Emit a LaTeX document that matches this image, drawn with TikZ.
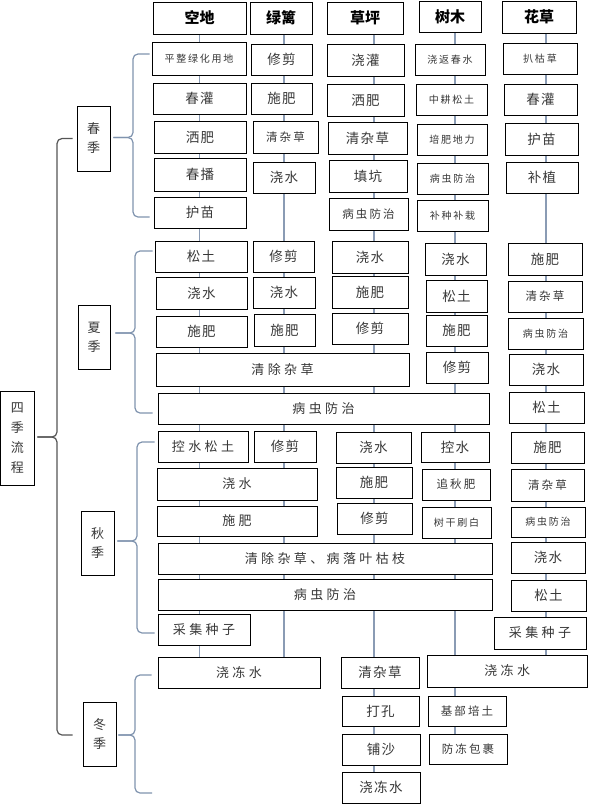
\documentclass[tikz,border=0pt]{standalone}
\usepackage{fontspec}
\setmainfont{Noto Sans CJK SC}
\newfontfamily\cjk[LetterSpace=10]{Noto Sans CJK SC}
\newfontfamily\cjksm[LetterSpace=18]{Noto Sans CJK SC}
\newfontfamily\cjksp[LetterSpace=26]{Noto Sans CJK SC}
\usetikzlibrary{backgrounds}
\definecolor{txt}{HTML}{383838}
\definecolor{lnk}{HTML}{8A9BB4}
\definecolor{brc}{HTML}{7F93AE}
\definecolor{bigb}{HTML}{555555}
\tikzset{
  box/.style={draw=black, fill=white, line width=0.8pt, inner sep=0pt, text=txt,
    font=\cjk\fontsize{13.5}{16}\selectfont},
  hd/.style={font=\bfseries\fontsize{15}{18}\selectfont, text=black},
  sm/.style={font=\cjksm\fontsize{10}{12}\selectfont},
  md/.style={font=\cjksm\fontsize{11.5}{14}\selectfont},
  sp/.style={font=\cjksp\fontsize{13}{16}\selectfont},
  ssn/.style={align=center, font=\fontsize{13}{19}\selectfont},
  link/.style={draw=lnk, line width=1.2pt},
  bracepath/.style={draw=brc, line width=1.2pt, rounded corners=5pt},
  bigbrace/.style={draw=bigb, line width=1.2pt, rounded corners=5pt},
}
\newcommand\bx[7][]{\node[box,#1,minimum width={#4-#2},minimum height={#5-#3}] (#6) at ({(#2+#4)/2},{(#3+#5)/2}) {#7};}
\begin{document}
\begin{tikzpicture}[x=1pt,y=-1pt]
\useasboundingbox (0,0) rectangle (589,804);
% headers
\bx[hd]{153}{2}{246}{34}{hKD}{空地}
\bx[hd]{250}{2}{312}{34}{hLL}{绿篱}
\bx[hd]{327}{2}{403}{34}{hCP}{草坪}
\bx[hd]{419}{1}{481}{32}{hSM}{树木}
\bx[hd]{502}{1}{576}{33}{hHC}{花草}
% spring
\bx[sm]{152}{42}{246}{75}{s11}{平整绿化用地}
\bx{153}{83}{246}{114}{s12}{春灌}
\bx{154}{121}{246}{153}{s13}{洒肥}
\bx{154}{158}{246}{191}{s14}{春播}
\bx{154}{197}{246}{228}{s15}{护苗}
\bx{251}{44}{312}{75}{s21}{修剪}
\bx{251}{83}{312}{114}{s22}{施肥}
\bx[md]{253}{121}{318}{153}{s23}{清杂草}
\bx{253}{162}{315}{193}{s24}{浇水}
\bx{327}{44}{404}{76}{s31}{浇灌}
\bx{327}{84}{404}{116}{s32}{洒肥}
\bx{328}{122}{407}{154}{s33}{清杂草}
\bx{329}{160}{407}{192}{s34}{填坑}
\bx[md]{329}{198}{408}{230}{s35}{病虫防治}
\bx[sm]{415}{44}{485}{75}{s41}{浇返春水}
\bx[sm]{416}{84}{487}{115}{s42}{中耕松土}
\bx[sm]{417}{124}{487}{155}{s43}{培肥地力}
\bx[sm]{417}{163}{488}{194}{s44}{病虫防治}
\bx[sm]{417}{200}{488}{231}{s45}{补种补栽}
\bx[sm]{503}{43}{577}{74}{s51}{扒枯草}
\bx{504}{84}{577}{115}{s52}{春灌}
\bx{505}{123}{578}{155}{s53}{护苗}
\bx{506}{162}{578}{193}{s54}{补植}
% summer
\bx{155}{241}{247}{272}{u11}{松土}
\bx{156}{277}{247}{309}{u12}{浇水}
\bx{156}{316}{247}{347}{u13}{施肥}
\bx[sp]{156}{353}{409}{386}{u14}{清除杂草}
\bx[sp]{158}{393}{489}{424}{u15}{病虫防治}
\bx{253}{241}{314}{272}{u21}{修剪}
\bx{253}{277}{315}{308}{u22}{浇水}
\bx{254}{314}{315}{346}{u23}{施肥}
\bx{332}{241}{408}{273}{u31}{浇水}
\bx{332}{276}{408}{308}{u32}{施肥}
\bx{332}{313}{408}{344}{u33}{修剪}
\bx{425}{243}{486}{275}{u41}{浇水}
\bx{426}{280}{487}{312}{u42}{松土}
\bx{426}{315}{487}{346}{u43}{施肥}
\bx{426}{352}{488}{383}{u44}{修剪}
\bx{508}{243}{582}{275}{u51}{施肥}
\bx[md]{508}{281}{582}{312}{u52}{清杂草}
\bx[sm]{508}{318}{583}{349}{u53}{病虫防治}
\bx{509}{354}{583}{385}{u54}{浇水}
\bx{509}{392}{584}{423}{u55}{松土}
% autumn
\bx[sp]{158}{431}{248}{462}{a11}{控水松土}
\bx[sp]{157}{468}{317}{500}{a12}{浇水}
\bx[sp]{157}{506}{317}{536}{a13}{施肥}
\bx[sp]{158}{543}{492}{574}{a14}{清除杂草、病落叶枯枝}
\bx[sp]{158}{579}{492}{610}{a15}{病虫防治}
\bx[sp]{158}{614}{250}{645}{a16}{采集种子}
\bx{254}{431}{316}{462}{a21}{修剪}
\bx{336}{432}{411}{463}{a31}{浇水}
\bx{336}{467}{412}{498}{a32}{施肥}
\bx{337}{503}{412}{534}{a33}{修剪}
\bx{421}{432}{489}{462}{a41}{控水}
\bx[md]{422}{469}{490}{500}{a42}{追秋肥}
\bx[sm]{422}{507}{491}{538}{a43}{树干刷白}
\bx{511}{432}{584}{463}{a51}{施肥}
\bx[md]{511}{469}{584}{501}{a52}{清杂草}
\bx[sm]{511}{507}{585}{537}{a53}{病虫防治}
\bx{511}{542}{585}{573}{a54}{浇水}
\bx{511}{580}{586}{611}{a55}{松土}
\bx[sp]{494}{617}{586}{649}{a56}{采集种子}
% winter
\bx[sp]{158}{657}{320}{688}{w11}{浇冻水}
\bx{341}{657}{419}{688}{w31}{清杂草}
\bx{342}{696}{419}{726}{w32}{打孔}
\bx{342}{734}{420}{765}{w33}{铺沙}
\bx{342}{772}{420}{803}{w34}{浇冻水}
\bx[sp]{427}{655}{587.5}{687}{w41}{浇冻水}
\bx[md]{428}{696}{506}{726}{w42}{基部培土}
\bx[md]{429}{734}{507}{764}{w43}{防冻包裹}
% seasons
\bx[ssn]{77}{106}{110}{171}{spring}{春\\季}
\bx[ssn]{78}{305}{110}{369}{summer}{夏\\季}
\bx[ssn]{81}{511}{114}{575}{autumn}{秋\\季}
\bx[ssn]{83}{702}{116}{766}{winter}{冬\\季}
\bx[ssn, font=\fontsize{13}{20}\selectfont]{0.6}{391}{34}{485}{main}{四\\季\\流\\程}
% column lines
\coordinate (cKD) at (hKD.south);
\coordinate (cLL) at ([xshift=3pt]hLL.south);
\coordinate (cCP) at ([xshift=9pt]hCP.south);
\coordinate (cSM) at ([xshift=5pt]hSM.south);
\coordinate (cHC) at ([xshift=7pt]hHC.south);
\begin{pgfonlayer}{background}
\draw[link] (cKD) -- (cKD |- w11.north);
\draw[link] (cLL) -- (cLL |- w11.north);
\draw[link] (cCP) -- (cCP |- w34.north);
\draw[link] (cSM) -- (cSM |- w43.north);
\draw[link] (cHC) -- (cHC |- w41.north);
\end{pgfonlayer}
% spring brace
\coordinate (vS) at (133,0);
\coordinate (sTop) at ([xshift=-2pt,yshift=4.5pt]s11.west);
\coordinate (sBot) at ([xshift=-4pt,yshift=-4.5pt]s15.west);
\coordinate (sTip) at ([xshift=3pt,yshift=1pt]spring.east);
\draw[bracepath] (sTop) -- (vS |- sTop) -- (vS |- sTip) -- (sTip);
\draw[bracepath] (sBot) -- (vS |- sBot) -- (vS |- sTip) -- (sTip);
% summer brace
\coordinate (vU) at (135,0);
\coordinate (uTop) at ([xshift=-2pt,yshift=5.5pt]u11.west);
\coordinate (uBot) at ([xshift=-5pt,yshift=-4.5pt]u15.west);
\coordinate (uTip) at ([xshift=5pt,yshift=4pt]summer.east);
\draw[bracepath] (uTop) -- (vU |- uTop) -- (vU |- uTip) -- (uTip);
\draw[bracepath] (uBot) -- (vU |- uBot) -- (vU |- uTip) -- (uTip);
% autumn brace
\coordinate (vA) at (137,0);
\coordinate (aTop) at ([xshift=-3pt,yshift=4.5pt]a11.west);
\coordinate (aBot) at ([xshift=-3pt,yshift=-3.5pt]a16.west);
\coordinate (aTip) at ([xshift=3pt,yshift=2pt]autumn.east);
\draw[bracepath] (aTop) -- (vA |- aTop) -- (vA |- aTip) -- (aTip);
\draw[bracepath] (aBot) -- (vA |- aBot) -- (vA |- aTip) -- (aTip);
% winter brace
\coordinate (vW) at (135,0);
\coordinate (wTop) at ([xshift=-6pt,yshift=-2.5pt]w11.west);
\coordinate (wBot) at (152,793);
\coordinate (wTip) at ([xshift=2pt,yshift=-1pt]winter.east);
\draw[bracepath] (wTop) -- (vW |- wTop) -- (vW |- wTip) -- (wTip);
\draw[bracepath] (wBot) -- (vW |- wBot) -- (vW |- wTip) -- (wTip);
% big brace
\coordinate (vB) at (57,0);
\coordinate (bTop) at ([xshift=-4pt]spring.west);
\coordinate (bBot) at ([xshift=-10pt,yshift=-1pt]winter.west);
\coordinate (bTip) at ([xshift=3pt,yshift=1pt]main.east);
\draw[bigbrace] (bTop) -- (vB |- bTop) -- (vB |- bTip) -- (bTip);
\draw[bigbrace] (bBot) -- (vB |- bBot) -- (vB |- bTip) -- (bTip);
\end{tikzpicture}
\end{document}
